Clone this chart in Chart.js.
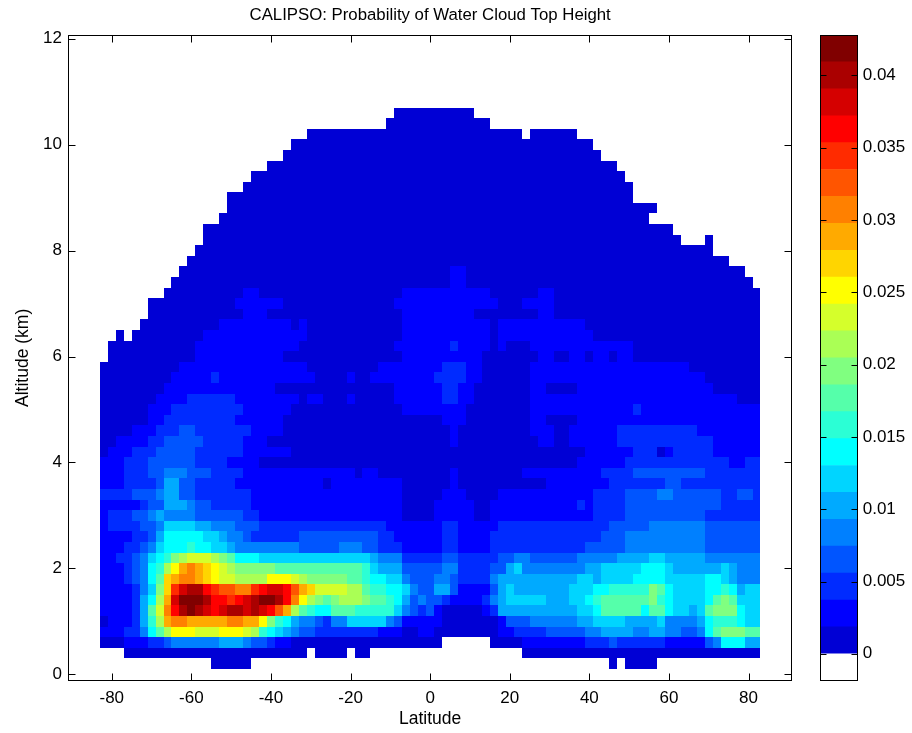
<!DOCTYPE html>
<html><head><meta charset="utf-8">
<script src="https://cdn.jsdelivr.net/npm/chart.js@4.4.0/dist/chart.umd.min.js"></script>
<style>
html,body{margin:0;padding:0;background:#fff;}
#wrap{position:relative;width:912px;height:733px;overflow:hidden;}
#main{position:absolute;left:0;top:0;}
#cbar{position:absolute;left:800px;top:0;}
</style></head><body>
<div id="wrap"><canvas id="main" width="912" height="733"></canvas><canvas id="cbar" width="112" height="733"></canvas></div>
<script>
// ---------------- DATA ----------------
// Latitude bin centres (deg), 2-degree bins
const latitudes = [-82,-80,-78,-76,-74,-72,-70,-68,-66,-64,-62,-60,-58,-56,-54,-52,-50,-48,-46,-44,-42,-40,-38,-36,-34,-32,-30,-28,-26,-24,-22,-20,-18,-16,-14,-12,-10,-8,-6,-4,-2,0,2,4,6,8,10,12,14,16,18,20,22,24,26,28,30,32,34,36,38,40,42,44,46,48,50,52,54,56,58,60,62,64,66,68,70,72,74,76,78,80,82];
// Altitude bin centres (km), 0.2 km bins
const altitudes = [0.2,0.4,0.6,0.8,1.0,1.2,1.4,1.6,1.8,2.0,2.2,2.4,2.6,2.8,3.0,3.2,3.4,3.6,3.8,4.0,4.2,4.4,4.6,4.8,5.0,5.2,5.4,5.6,5.8,6.0,6.2,6.4,6.6,6.8,7.0,7.2,7.4,7.6,7.8,8.0,8.2,8.4,8.6,8.8,9.0,9.2,9.4,9.6,9.8,10.0,10.2,10.4,10.6];
const xTickValues = [-80,-60,-40,-20,0,20,40,60,80];
const yTickValues = [0,2,4,6,8,10,12];
const colorbarTicks = [0,0.005,0.01,0.015,0.02,0.025,0.03,0.035,0.04];
const colorbarMax = 0.0428;
// Probability read from the picture as colour-bin codes:
// '.' = no data, '1'..'9','a'..'n' = colour bins 1..23 (bin k covers [(k-1)*w, k*w], w = colorbarMax/23)
// First string = top row (10.6 km), last = bottom row (0.2 km); columns follow `latitudes`.
const probabilityBins = [
".......... .......... .......... .......111 1111111... .......... .......... .......... ...",
".......... .......... .......... ......1111 111111111. .......... .......... .......... ...",
".......... .......... ......1111 1111111111 1111111111 111.111111 .......... .......... ...",
".......... .......... ....111111 1111111111 1111111111 1111111111 11........ .......... ...",
".......... .......... ...1111111 1111111111 1111111111 1111111111 111....... .......... ...",
".......... .......... .111111111 1111111111 1111111111 1111111111 11111..... .......... ...",
".......... .........1 1111111111 1111111111 1111111111 1111111111 111111.... .......... ...",
".......... ........11 1111111111 1111111111 1111111111 1111111111 1111111... .......... ...",
".......... ......1111 1111111111 1111111111 1111111111 1111111111 1111111... .......... ...",
".......... ......1111 1111111111 1111111111 1111111111 1111111111 1111111111 .......... ...",
".......... .....11111 1111111111 1111111111 1111111111 1111111111 111111111. .......... ...",
".......... ...1111111 1111111111 1111111111 1111111111 1111111111 1111111111 11........ ...",
".......... ...1111111 1111111111 1111111111 1111111111 1111111111 1111111111 111...1... ...",
".......... ..11111111 1111111111 1111111111 1111111111 1111111111 1111111111 1111111... ...",
".......... .111111111 1111111111 1111111111 1111111111 1111111111 1111111111 111111111. ...",
".......... 1111111111 1111111111 1111111111 1111221111 1111111111 1111111111 1111111111 1..",
".........1 1111111111 1111111111 1111111111 1111221111 1111111111 1111111111 1111111111 11.",
"........11 1111111122 1111111111 1111111122 2222222221 1111122111 1111111111 1111111111 111",
"......1111 1111111222 2221111111 1111111222 2222222222 1112222111 1111111111 1111111111 111",
"......1111 1111111122 2111111111 1111111122 2222222111 1111122111 1111111111 1111111111 111",
".....11111 1111122222 2222121111 1111111122 2222222221 2222222222 2111111111 1111111111 111",
"..1.111111 1112222222 2222221111 1111111122 2222222221 2222222222 2211111111 1111111111 111",
".111111111 1122222222 2222211111 1111111222 2222322221 2111222222 2222222111 1111111111 111",
".111111111 1122222222 2221111111 1111111122 2222222211 1111122112 2122122111 1111111111 111",
"1111111111 2222222222 2222221111 1111122222 2223332211 1111222222 2222222222 2222111111 111",
"1111111112 2222322222 2222222111 1211222222 2233332211 1111222222 2222222222 2222221111 111",
"1111111122 2222222222 2211111111 1111111222 2223322111 1111221111 2222222222 2222222111 111",
"1111111222 2333333222 2222212211 1211111222 2223322111 1111222222 2222222222 2222222222 111",
"1111112223 3333333322 2222111111 1111111122 2222221111 1111222222 2222222322 2222222222 222",
"1111112233 3333333222 2221111111 1111111111 1112221111 1111221111 2222222222 2222222222 222",
"1111222333 4433333332 2221111111 1111111111 1111211111 1111222112 2222233333 3333322222 222",
"1122223344 4443333322 2111111111 1111111111 1111211111 1111122112 2222233333 3333333222 222",
"1222333444 4433333322 2222111111 1111111111 1111111111 1111111111 1222222333 1233333222 222",
"2223334444 4433332222 1111111111 1111111111 1111111111 1111111111 2222223333 3333333332 233",
"2223334455 5444333322 2222222222 2212211111 1111211111 1112222222 2223333444 4444443333 333",
"2223333466 4433333222 2222222212 2222222211 1111211111 1111112222 2222333333 3443333333 333",
"3333444566 4433333332 2222222222 2222222211 1112221111 2222222222 2233334444 5544444433 443",
"2222234466 6544333332 2222222222 2222222211 1122222112 2222222222 3233334444 4444444433 333",
"2333445655 5544444433 2222222222 2222222211 1122222112 2222222222 2233334444 4444443333 333",
"2333344577 7766555444 3333333333 3333332222 2223322222 3333333333 3333444445 5555554444 444",
"2222334688 8887765543 3333344444 4444433222 2223322223 3333333333 3334445555 5555554444 444",
"2223345788 8988776555 5555544444 5554433322 2223322223 3333333333 3444445555 5555554444 444",
"223345789b cdddcba888 7777777777 7777655533 3334433333 4455444444 5555566667 7666665555 555",
"22234589ce ghgfedcbbb bbaaaaaaaa aaa9766644 4445533334 4675555555 5667777788 8766666676 555",
"2223458afg hhgfeddccc ceeedcbbbb baa9887754 4455433335 6666666666 7767777888 8777778876 555",
"2222357bfj lmmkjiihhj kllkigfddd dcca998875 4466422224 6766666667 778899999b a877778898 677",
"2222368cgl nnnmkkjklm nnmkhecbab cccbaa9864 5443222235 6777776667 789aaaaaab 9877778aba 777",
"222236adhk mnmlklmmlm lkigca988a aa99999754 3421111123 6666666666 778aaaaa8a a87767abbb 877",
"1222369cgh hggggghhgg eb98655435 5777775422 2221111111 2444555555 6677776666 7555568999 877",
"2223358ace eedddeeedc 9876544333 3333322211 2211111111 2233334444 4556666556 6554458abb baa",
"1112223345 5555566654 4322111111 1111111111 111......1 1112222222 2333433333 3222224588 866",
"...1111111 1111111111 111111.111 1.11...... .......... ...1111111 1111111111 1111111111 111",
".......... ....11111. .......... .......... .......... .......... ....1.1111 .......... ..."
];

// ---------------- STYLE ----------------
const FONT = "'Liberation Sans', Arial, Helvetica, sans-serif";
Chart.defaults.font.family = FONT;
Chart.defaults.font.size = 17;
Chart.defaults.color = '#000';
const jetColors = ['#ffffff',
 'rgb(0,0,213)','rgb(0,0,255)','rgb(0,43,255)','rgb(0,85,255)','rgb(0,128,255)','rgb(0,170,255)',
 'rgb(0,213,255)','rgb(0,255,255)','rgb(43,255,213)','rgb(85,255,170)','rgb(128,255,128)','rgb(170,255,85)',
 'rgb(213,255,43)','rgb(255,255,0)','rgb(255,213,0)','rgb(255,170,0)','rgb(255,128,0)','rgb(255,85,0)',
 'rgb(255,43,0)','rgb(255,0,0)','rgb(213,0,0)','rgb(170,0,0)','rgb(128,0,0)'];
const nBins = jetColors.length - 1;
const binWidth = colorbarMax / nBins;
const colorbarMin = -binWidth;
const CODES = '123456789abcdefghijklmn';
const probability = probabilityBins.map(r => r.replace(/ /g, '').split('').map(ch => {
  const k = CODES.indexOf(ch);
  return k < 0 ? null : (k + 0.5) * binWidth;
}));
function colorFor(v) {
  if (v < 0) return jetColors[0];
  const lvl = Math.min(nBins, Math.floor(v / binWidth) + 1);
  return jetColors[lvl];
}
const latHalf = (latitudes[1] - latitudes[0]) / 2;
const altHalf = (altitudes[1] - altitudes[0]) / 2;

const heatmapPlugin = {
  id: 'heatmap',
  beforeDatasetsDraw(chart) {
    const {ctx, chartArea: a, scales: {x, y}} = chart;
    ctx.save();
    ctx.beginPath(); ctx.rect(a.left, a.top, a.right - a.left, a.bottom - a.top); ctx.clip();
    const n = altitudes.length;
    for (let r = 0; r < probability.length; r++) {
      const alt = altitudes[n - 1 - r];
      const yT = Math.round(y.getPixelForValue(alt + altHalf));
      const yB = Math.round(y.getPixelForValue(alt - altHalf));
      const row = probability[r];
      for (let c = 0; c < latitudes.length; c++) {
        const v = row[c];
        if (v == null) continue;
        const xL = Math.round(x.getPixelForValue(latitudes[c] - latHalf));
        const xR = Math.round(x.getPixelForValue(latitudes[c] + latHalf));
        ctx.fillStyle = colorFor(v);
        ctx.fillRect(xL, yT, xR - xL, yB - yT);
      }
    }
    ctx.restore();
  }
};
const framePlugin = {
  id: 'frame',
  afterDraw(chart) {
    const {ctx, chartArea: a, scales: {x, y}} = chart;
    ctx.save();
    ctx.strokeStyle = '#000'; ctx.lineWidth = 1;
    const L = Math.round(a.left) + 0.5, R = Math.round(a.right) - 0.5;
    const T = Math.round(a.top) + 0.5, B = Math.round(a.bottom) - 0.5;
    ctx.strokeRect(L, T, R - L, B - T);
    ctx.beginPath();
    const len = 7;
    for (const v of xTickValues) {
      const px = Math.round(x.getPixelForValue(v)) + 0.5;
      ctx.moveTo(px, B); ctx.lineTo(px, B - len);
      ctx.moveTo(px, T); ctx.lineTo(px, T + len);
    }
    for (const v of yTickValues) {
      const py = Math.round(y.getPixelForValue(v)) + 0.5;
      ctx.moveTo(L, py); ctx.lineTo(L + len, py);
      ctx.moveTo(R, py); ctx.lineTo(R - len, py);
    }
    ctx.stroke();
    ctx.restore();
  }
};

new Chart(document.getElementById('main'), {
  type: 'scatter',
  data: { datasets: [] },
  options: {
    responsive: false, animation: false, events: [],
    layout: { padding: { left: 0, right: 119.7, top: 0, bottom: 0 } },
    plugins: {
      legend: { display: false }, tooltip: { enabled: false },
      title: { display: true, text: 'CALIPSO: Probability of Water Cloud Top Height', fullSize: false,
        font: { family: FONT, size: 16.8, weight: 'normal', lineHeight: 1.2 }, color: '#000', padding: { top: 5.2, bottom: 9.6 } }
    },
    scales: {
      x: {
        type: 'linear', min: -91, max: 91,
        afterBuildTicks: s => { s.ticks = xTickValues.map(v => ({ value: v })); },
        afterFit: s => { s.height = 52.3; },
        grid: { display: false, drawTicks: false }, border: { display: false },
        ticks: { padding: 7, autoSkip: false, maxRotation: 0, color: '#000' },
        title: { display: true, text: 'Latitude', color: '#000', font: { size: 17.5 }, padding: { top: 0, bottom: 3.5 } }
      },
      y: {
        type: 'linear', min: -0.12, max: 12.07,
        afterBuildTicks: s => { s.ticks = yTickValues.map(v => ({ value: v })); },
        afterFit: s => { s.width = 68; },
        grid: { display: false, drawTicks: false }, border: { display: false },
        ticks: { padding: 6, color: '#000' },
        title: { display: true, text: 'Altitude (km)', color: '#000', font: { size: 17.5 }, padding: { top: 12.5, bottom: 0 } }
      }
    }
  },
  plugins: [heatmapPlugin, framePlugin]
});

// ---------------- COLORBAR ----------------
const cbFrame = {
  id: 'cbFrame',
  afterDraw(chart) {
    const {ctx, chartArea: a, scales: {y}} = chart;
    ctx.save();
    ctx.strokeStyle = '#000'; ctx.lineWidth = 1;
    const L = Math.round(a.left) + 0.5, R = Math.round(a.right) - 0.5;
    const T = Math.round(a.top) + 0.5, B = Math.round(a.bottom) - 0.5;
    ctx.strokeRect(L, T, R - L, B - T);
    ctx.beginPath();
    for (const v of colorbarTicks) {
      const py = Math.round(y.getPixelForValue(v)) + 0.5;
      ctx.moveTo(L, py); ctx.lineTo(L + 6, py);
      ctx.moveTo(R, py); ctx.lineTo(R - 6, py);
    }
    ctx.stroke();
    ctx.restore();
  }
};
const cbDatasets = jetColors.map((col, i) => ({
  data: [[colorbarMin + i * binWidth, colorbarMin + (i + 1) * binWidth]],
  backgroundColor: col, borderWidth: 0, grouped: false,
  barPercentage: 1, categoryPercentage: 1
}));
new Chart(document.getElementById('cbar'), {
  type: 'bar',
  data: { labels: [''], datasets: cbDatasets },
  options: {
    responsive: false, animation: false, events: [],
    layout: { padding: { left: 20, right: 0, top: 35, bottom: 52.3 } },
    plugins: { legend: { display: false }, tooltip: { enabled: false } },
    scales: {
      x: { display: false },
      y: {
        position: 'right', min: colorbarMin, max: colorbarMax,
        afterBuildTicks: s => { s.ticks = colorbarTicks.map(v => ({ value: v })); },
        afterFit: s => { s.width = 54.3; },
        grid: { display: false, drawTicks: false }, border: { display: false },
        ticks: { padding: 5, color: '#000', callback: v => String(Math.round(v * 1000) / 1000) }
      }
    }
  },
  plugins: [cbFrame]
});
</script>
</body></html>
